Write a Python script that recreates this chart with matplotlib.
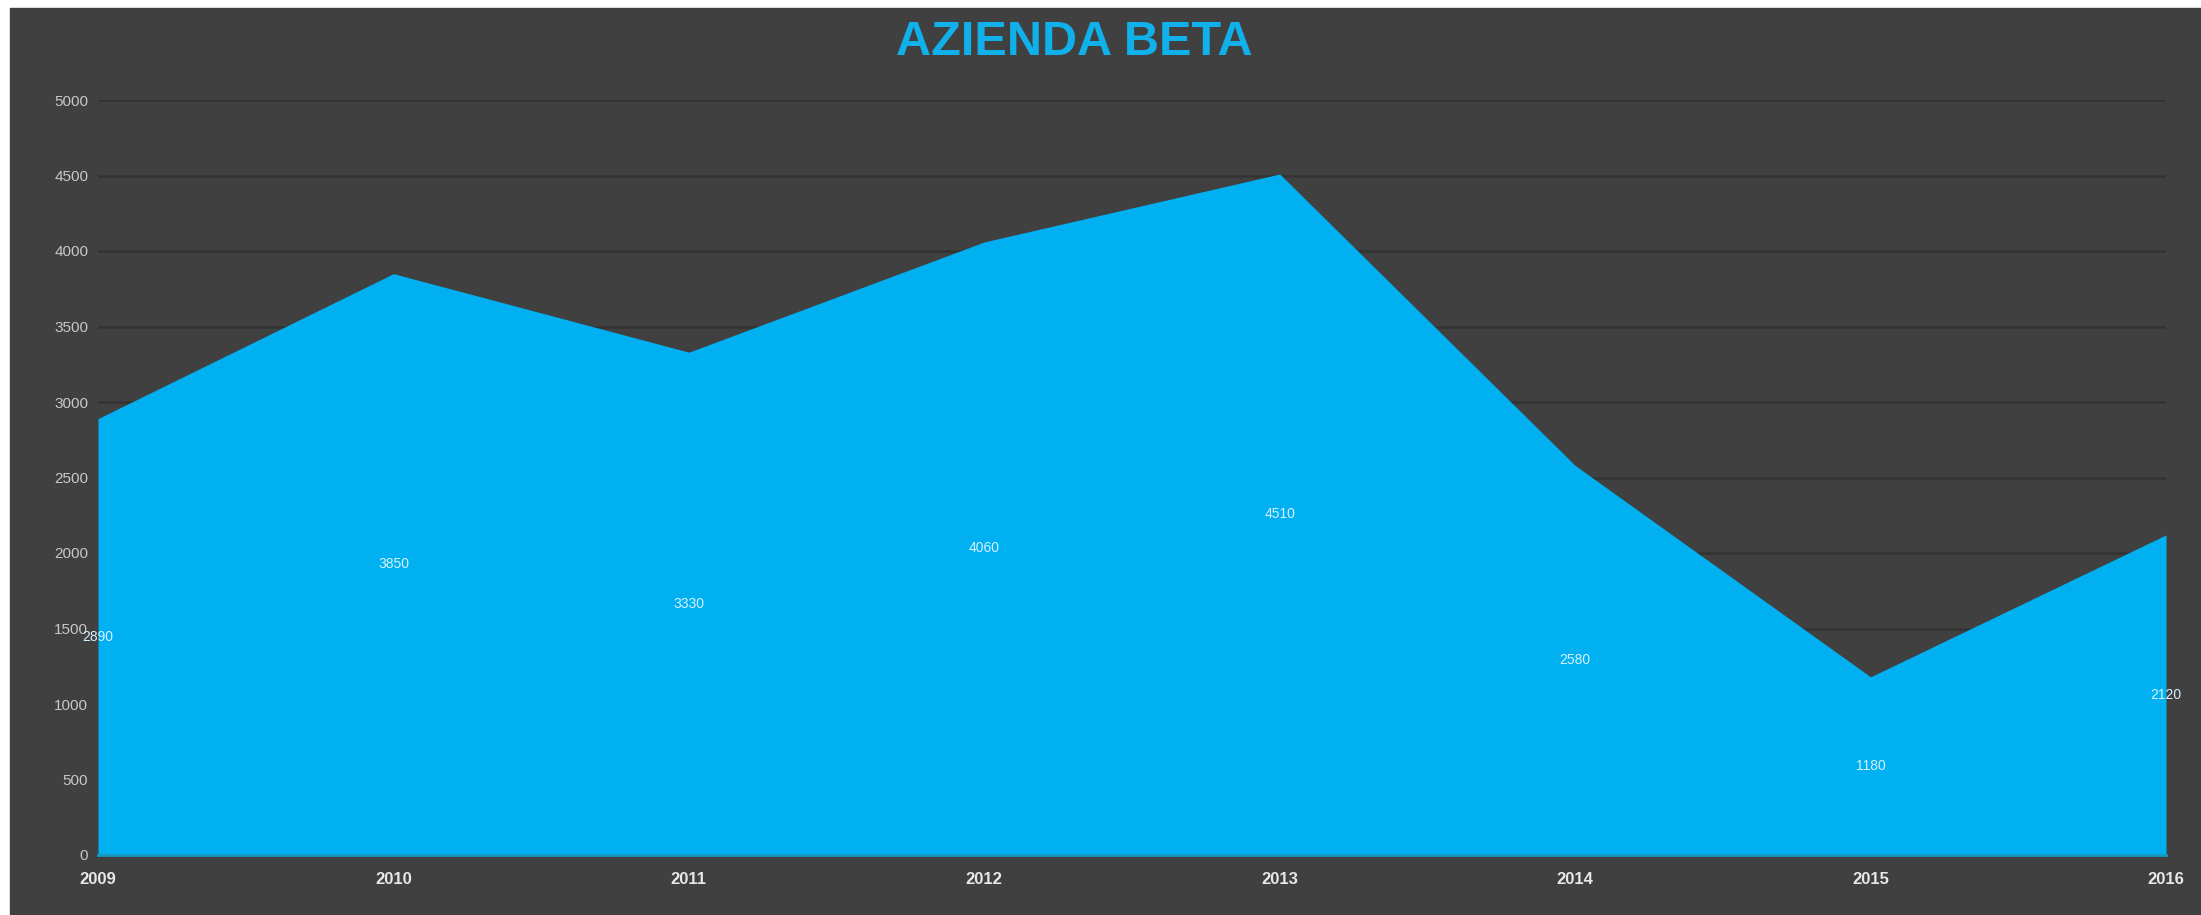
import matplotlib.pyplot as plt
from matplotlib.patches import Rectangle

# valori
anni = [2009, 2010, 2011, 2012, 2013, 2014, 2015, 2016]
valori = [2890, 3850, 3330, 4060, 4510, 2580, 1180, 2120]
tick_y = [0, 500, 1000, 1500, 2000, 2500, 3000, 3500, 4000, 4500, 5000]

sfondo = '#404040'
azzurro = '#00b0f0'

fig = plt.figure(figsize=(22.01, 9.15), dpi=100, facecolor='white')
# pannello scuro dietro al grafico
pannello = Rectangle((10/2201, 0), 1 - 10/2201, 1 - 8/915,
                     transform=fig.transFigure, color=sfondo, zorder=-10)
fig.add_artist(pannello)

ax = fig.add_axes([98/2201, 1 - 855/915, (2166 - 98)/2201, (855 - 100)/915])
ax.set_zorder(1)
ax.patch.set_alpha(0)

for v in tick_y[1:]:
    ax.axhline(v, color='#333333', lw=1.8, zorder=1)

ax.fill_between(anni, valori, 0, color=azzurro, lw=0, zorder=2)

for a, v in zip(anni, valori):
    ax.text(a, v / 2, str(v), ha='center', va='center', fontsize=10,
            color='#d6f1ff', family='Liberation Sans', zorder=3)

ax.set_xlim(2009, 2016)
ax.set_ylim(0, 5000)
ax.set_xticks(anni)
ax.set_xticklabels([str(a) for a in anni], fontsize=12, fontweight='bold',
                   color='#e8e8e8', family='Liberation Sans')
ax.set_yticks(tick_y)
ax.set_yticklabels([str(t) for t in tick_y], fontsize=11, color='#c8c8c8',
                   family='Liberation Sans')
ax.tick_params(axis='x', length=0, pad=12)
ax.tick_params(axis='y', length=0, pad=7)

for s in ['top', 'right', 'left']:
    ax.spines[s].set_visible(False)
ax.spines['bottom'].set_color('#1a98c4')
ax.spines['bottom'].set_linewidth(2)
ax.spines['bottom'].set_zorder(4)

fig.text(0.488, 0.954, 'AZIENDA BETA', ha='center', va='center', fontsize=35,
         fontweight='bold', color='#10b0ea', family='Liberation Sans')

fig.savefig('out.png', dpi=100, facecolor=fig.get_facecolor())
